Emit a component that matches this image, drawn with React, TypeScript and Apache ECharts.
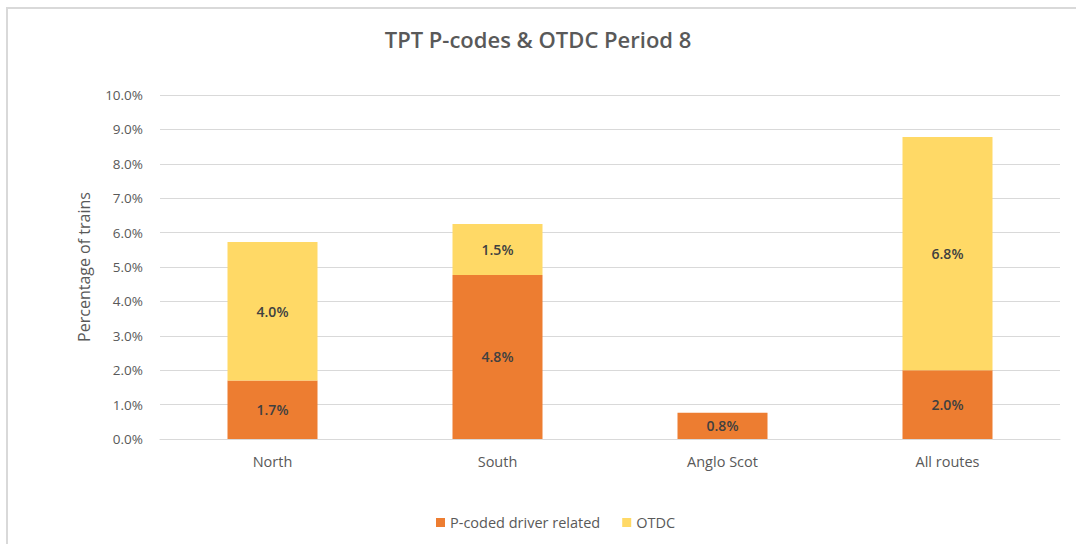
import React, { useEffect, useRef } from "react";
import * as echarts from "echarts";

const categories = ["North", "South", "Anglo Scot", "All routes"];
const pCodedDriver = [1.7, 4.77, 0.76, 2.0];
const otdc: (number | null)[] = [4.03, 1.48, null, 6.78];
const yTicks = { min: 0, max: 10, interval: 1 };

const FONT = "'Open Sans', 'Liberation Sans', sans-serif";

export default function App() {
  const ref = useRef<HTMLDivElement>(null);
  useEffect(() => {
    const chart = echarts.init(ref.current!, null, { renderer: "svg" });
    const label = {
      show: true,
      position: "inside",
      color: "#404040",
      fontFamily: FONT,
      fontSize: 14,
      fontWeight: 600,
      formatter: (p: any) => (p.value == null ? "" : Number(p.value).toFixed(1) + "%"),
    };
    chart.setOption({
      animation: false,
      backgroundColor: "#ffffff",
      textStyle: { fontFamily: FONT },
      title: {
        text: "TPT P-codes & OTDC Period 8",
        left: "center",
        top: 23,
        textStyle: { fontFamily: FONT, fontSize: 22, fontWeight: 600, color: "#595959" },
      },
      graphic: [
        {
          type: "rect",
          shape: { x: 7, y: 8, width: 1200, height: 700 },
          style: { fill: "none", stroke: "#d9d9d9", lineWidth: 2 },
          silent: true,
        },
      ],
      legend: {
        bottom: 9,
        left: 431,
        itemWidth: 9,
        itemHeight: 9,
        itemGap: 22,
        icon: "rect",
        textStyle: { fontFamily: FONT, fontSize: 14.5, color: "#595959" },
        data: ["P-coded driver related", "OTDC"],
      },
      grid: { left: 160, right: 16, top: 95, bottom: 105 },
      xAxis: {
        type: "category",
        data: categories,
        axisTick: { show: false },
        axisLine: { lineStyle: { color: "#d9d9d9" } },
        axisLabel: { color: "#595959", fontSize: 14.5, fontFamily: FONT, margin: 15 },
      },
      yAxis: {
        type: "value",
        min: yTicks.min,
        max: yTicks.max,
        interval: yTicks.interval,
        name: "Percentage of trains",
        nameLocation: "middle",
        nameGap: 68,
        nameTextStyle: { color: "#595959", fontSize: 16, fontFamily: FONT },
        axisLabel: {
          color: "#595959",
          fontSize: 13.5,
          fontFamily: FONT,
          margin: 17,
          formatter: (v: number) => v.toFixed(1) + "%",
        },
        splitLine: { lineStyle: { color: "#d9d9d9", width: 1 } },
        axisLine: { show: false },
      },
      series: [
        {
          name: "P-coded driver related",
          type: "bar",
          stack: "total",
          barWidth: 90,
          data: pCodedDriver,
          itemStyle: { color: "#ED7D31" },
          label,
        },
        {
          name: "OTDC",
          type: "bar",
          stack: "total",
          barWidth: 90,
          data: otdc,
          itemStyle: { color: "#FFD966" },
          label,
        },
      ],
    });
    return () => chart.dispose();
  }, []);
  return (
    <div
      ref={ref}
      style={{ position: "fixed", left: 0, top: 0, width: 1076, height: 544 }}
    />
  );
}
